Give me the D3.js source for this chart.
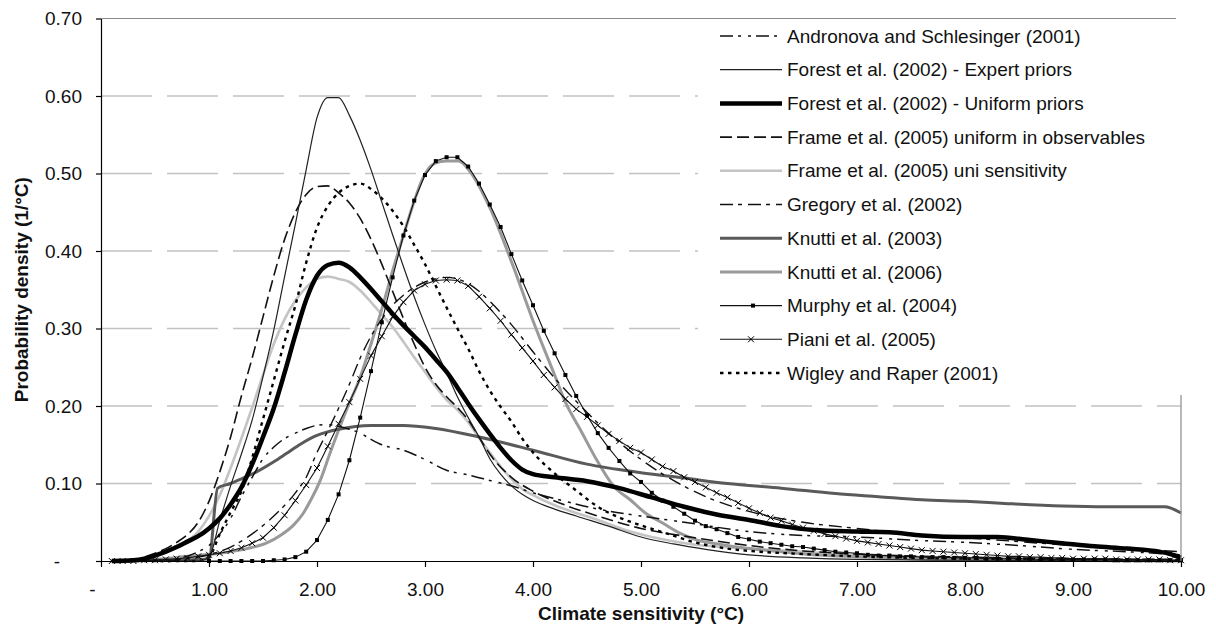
<!DOCTYPE html>
<html>
<head>
<meta charset="utf-8">
<script src="https://cdn.jsdelivr.net/npm/d3@7"></script>
<style>
  body { margin: 0; background: #fff; }
  svg { display: block; font-family: "Liberation Sans", Arial, sans-serif; }
</style>
</head>
<body>
<svg id="chart"></svg>
<script>
const width = 1216, height = 628;

// tick values
const xTicks = [0, 1, 2, 3, 4, 5, 6, 7, 8, 9, 10];
const yTicks = [0, 0.1, 0.2, 0.3, 0.4, 0.5, 0.6, 0.7];

// curves, [climate sensitivity, density]
const andronova = [[0.1,0],[0.5,0.001],[0.7,0.003],[0.9,0.012],[1.0,0.02],[1.1,0.035],[1.2,0.055],[1.3,0.083],[1.4,0.108],[1.5,0.132],[1.6,0.147],[1.7,0.158],[1.8,0.165],[1.9,0.171],[2.0,0.175],[2.1,0.176],[2.2,0.174],[2.3,0.17],[2.4,0.165],[2.5,0.157],[2.6,0.15],[2.8,0.143],[3.0,0.131],[3.2,0.117],[3.4,0.111],[3.6,0.104],[3.8,0.097],[4.0,0.088],[4.3,0.077],[4.6,0.067],[5.0,0.058],[5.4,0.05],[6.0,0.038],[6.5,0.033],[7.0,0.031],[7.5,0.027],[8.0,0.024],[8.5,0.02],[9.0,0.015],[9.5,0.012],[10,0.008]];
const forestExpert = [[0.1,0],[0.9,0],[1.0,0.005],[1.1,0.052],[1.2,0.097],[1.3,0.138],[1.4,0.182],[1.5,0.238],[1.6,0.298],[1.7,0.367],[1.8,0.435],[1.9,0.505],[2.0,0.572],[2.1,0.598],[2.2,0.598],[2.3,0.575],[2.4,0.543],[2.5,0.505],[2.6,0.463],[2.7,0.421],[2.8,0.38],[2.9,0.341],[3.0,0.305],[3.1,0.272],[3.2,0.243],[3.3,0.212],[3.4,0.185],[3.5,0.16],[3.6,0.132],[3.7,0.112],[3.8,0.097],[3.9,0.086],[4.0,0.078],[4.2,0.067],[4.4,0.058],[4.7,0.045],[5.0,0.031],[5.3,0.022],[5.6,0.015],[6.0,0.008],[6.5,0.004],[7.0,0.002],[8.0,0.001],[10,0]];
const forestUniform = [[0.1,0],[0.3,0.001],[0.4,0.003],[0.5,0.007],[0.6,0.012],[0.7,0.018],[0.8,0.025],[0.9,0.032],[1.0,0.042],[1.1,0.055],[1.2,0.073],[1.3,0.095],[1.4,0.125],[1.5,0.16],[1.6,0.197],[1.7,0.243],[1.8,0.292],[1.9,0.337],[2.0,0.368],[2.1,0.382],[2.2,0.385],[2.3,0.379],[2.4,0.366],[2.5,0.351],[2.6,0.335],[2.7,0.319],[2.8,0.304],[2.9,0.29],[3.0,0.276],[3.1,0.26],[3.2,0.244],[3.3,0.224],[3.4,0.203],[3.5,0.183],[3.6,0.164],[3.7,0.146],[3.8,0.13],[3.9,0.118],[4.0,0.112],[4.2,0.108],[4.5,0.103],[4.8,0.094],[5.1,0.082],[5.4,0.07],[5.7,0.06],[6.0,0.053],[6.3,0.045],[6.6,0.04],[7.0,0.038],[7.3,0.037],[7.6,0.033],[8.0,0.031],[8.3,0.031],[8.6,0.027],[8.9,0.023],[9.2,0.019],[9.5,0.016],[9.8,0.012],[9.9,0.009],[10,0.004]];
const frameObs = [[0.1,0],[0.3,0.001],[0.4,0.005],[0.5,0.01],[0.6,0.016],[0.7,0.024],[0.8,0.034],[0.9,0.05],[1.0,0.077],[1.1,0.115],[1.2,0.16],[1.3,0.213],[1.4,0.262],[1.5,0.315],[1.6,0.368],[1.7,0.415],[1.8,0.45],[1.9,0.473],[2.0,0.483],[2.1,0.484],[2.2,0.475],[2.3,0.462],[2.4,0.442],[2.5,0.415],[2.6,0.383],[2.7,0.348],[2.8,0.313],[2.9,0.28],[3.0,0.25],[3.1,0.228],[3.2,0.212],[3.3,0.198],[3.4,0.182],[3.5,0.16],[3.6,0.138],[3.8,0.108],[4.0,0.09],[4.3,0.072],[4.6,0.058],[5.0,0.042],[5.5,0.03],[6.0,0.02],[6.5,0.013],[7.0,0.009],[8.0,0.005],[9.0,0.003],[10,0.002]];
const frameSens = [[0.1,0],[0.3,0.001],[0.5,0.006],[0.7,0.018],[0.9,0.038],[1.0,0.058],[1.1,0.085],[1.2,0.12],[1.3,0.158],[1.4,0.198],[1.5,0.24],[1.6,0.28],[1.7,0.312],[1.8,0.336],[1.9,0.353],[2.0,0.364],[2.1,0.367],[2.2,0.364],[2.3,0.36],[2.4,0.349],[2.5,0.334],[2.6,0.318],[2.7,0.302],[2.8,0.283],[2.9,0.263],[3.0,0.244],[3.1,0.225],[3.2,0.208],[3.3,0.195],[3.4,0.179],[3.5,0.159],[3.6,0.14],[3.7,0.122],[3.8,0.106],[3.9,0.093],[4.0,0.085],[4.2,0.072],[4.4,0.062],[4.6,0.053],[4.9,0.038],[5.2,0.028],[5.5,0.021],[6.0,0.016],[6.5,0.012],[7.0,0.008],[8.0,0.004],[9.0,0.002],[10,0.001]];
const gregory = [[0.1,0],[0.5,0],[0.8,0.003],[1.0,0.008],[1.2,0.018],[1.4,0.035],[1.6,0.058],[1.8,0.088],[1.9,0.108],[2.0,0.14],[2.1,0.168],[2.2,0.197],[2.3,0.228],[2.4,0.262],[2.5,0.29],[2.6,0.312],[2.7,0.33],[2.8,0.343],[2.9,0.353],[3.0,0.36],[3.1,0.364],[3.2,0.366],[3.3,0.364],[3.4,0.358],[3.5,0.348],[3.6,0.335],[3.8,0.305],[4.0,0.27],[4.2,0.236],[4.4,0.206],[4.6,0.178],[4.8,0.153],[5.0,0.131],[5.3,0.104],[5.6,0.083],[6.0,0.064],[6.5,0.05],[7.0,0.042],[7.5,0.035],[8.0,0.03],[8.5,0.025],[9.0,0.02],[9.5,0.016],[10,0.012]];
const knutti03 = [[0.1,0],[0.5,0.001],[0.9,0.002],[1.0,0.003],[1.08,0.094],[1.2,0.1],[1.3,0.106],[1.44,0.115],[1.6,0.128],[1.72,0.139],[1.85,0.151],[2.0,0.162],[2.2,0.17],[2.5,0.175],[2.8,0.175],[3.1,0.171],[3.5,0.16],[4.0,0.143],[4.5,0.125],[5.0,0.114],[5.4,0.107],[5.8,0.1],[6.3,0.094],[6.8,0.087],[7.2,0.083],[7.6,0.079],[8.0,0.077],[8.4,0.074],[8.9,0.071],[9.3,0.07],[9.85,0.07],[10,0.062]];
const knutti06 = [[0.1,0],[0.3,0],[0.5,0.002],[0.8,0.006],[1.1,0.01],[1.35,0.016],[1.53,0.023],[1.66,0.033],[1.78,0.046],[1.87,0.061],[1.94,0.078],[2.03,0.104],[2.12,0.139],[2.2,0.169],[2.27,0.194],[2.4,0.237],[2.5,0.28],[2.6,0.325],[2.71,0.379],[2.8,0.42],[2.89,0.46],[2.98,0.494],[3.09,0.513],[3.2,0.516],[3.31,0.516],[3.42,0.502],[3.6,0.456],[3.82,0.379],[4.0,0.31],[4.2,0.24],[4.3,0.205],[4.44,0.169],[4.6,0.128],[4.75,0.096],[4.9,0.079],[5.05,0.061],[5.2,0.049],[5.36,0.036],[5.52,0.027],[5.67,0.023],[6.0,0.016],[6.3,0.012],[6.6,0.008],[6.9,0.006],[7.5,0.003],[8.5,0.001],[10,0]];
const wigley = [[0.1,0],[0.9,0],[1.0,0.005],[1.1,0.035],[1.2,0.063],[1.3,0.09],[1.4,0.133],[1.5,0.183],[1.6,0.233],[1.7,0.283],[1.8,0.33],[1.9,0.385],[2.0,0.43],[2.1,0.458],[2.2,0.475],[2.3,0.484],[2.4,0.487],[2.5,0.48],[2.6,0.468],[2.7,0.452],[2.8,0.432],[2.9,0.408],[3.0,0.383],[3.1,0.355],[3.2,0.327],[3.3,0.3],[3.4,0.274],[3.5,0.245],[3.6,0.22],[3.7,0.199],[3.8,0.18],[3.9,0.158],[4.0,0.14],[4.2,0.113],[4.4,0.091],[4.6,0.07],[4.8,0.056],[5.0,0.046],[5.25,0.035],[5.5,0.024],[5.8,0.016],[6.1,0.012],[6.5,0.009],[7.0,0.006],[8.0,0.003],[9.0,0.002],[10,0.001]];

// marker series, one value every 0.1 degC
const murphyX = d3.range(10, 101).map(i => i / 10);
const murphyY = [0,0,0,0,0,0,0.001,0.002,0.005,0.012,
  0.027,0.053,0.086,0.130,0.185,0.245,0.308,0.366,0.420,0.465,
  0.498,0.516,0.521,0.521,0.509,0.487,0.460,0.431,0.396,0.362,
  0.330,0.297,0.268,0.240,0.213,0.188,0.165,0.146,0.129,0.113,
  0.102,0.088,0.078,0.070,0.061,0.052,0.045,0.041,0.036,0.031,
  0.028,0.025,0.023,0.021,0.019,0.018,0.016,0.014,0.012,0.011,
  0.010,0.008,0.007,0.007,0.006,0.006,0.005,0.005,0.005,0.004,
  0.004,0.004,0.003,0.003,0.003,0.003,0.003,0.002,0.002,0.002,
  0.002,0.002,0.002,0.002,0.001,0.001,0.001,0.001,0.001,0.001,0.001];
const pianiX = d3.range(1, 101).map(i => i / 10);
const pianiY = [0,0,0,0.001,0.001,0.002,0.003,0.004,0.006,0.008,
  0.010,0.013,0.017,0.023,0.030,0.043,0.059,0.078,0.098,0.120,
  0.148,0.177,0.205,0.235,0.265,0.290,0.315,0.334,0.349,0.357,
  0.362,0.363,0.362,0.355,0.341,0.326,0.310,0.292,0.275,0.258,
  0.240,0.224,0.209,0.196,0.186,0.175,0.164,0.155,0.146,0.140,
  0.131,0.122,0.116,0.108,0.102,0.095,0.088,0.082,0.075,0.068,
  0.062,0.056,0.052,0.047,0.043,0.039,0.035,0.032,0.029,0.026,
  0.024,0.022,0.020,0.018,0.016,0.014,0.013,0.012,0.011,0.010,
  0.009,0.008,0.007,0.006,0.006,0.005,0.005,0.004,0.004,0.003,
  0.003,0.003,0.003,0.002,0.002,0.002,0.002,0.002,0.001,0.001];

const murphy = murphyX.map((v, i) => [v, murphyY[i]]);
const piani = pianiX.map((v, i) => [v, pianiY[i]]);

// legend order and line styles
let series = [
  {name: "Andronova and Schlesinger (2001)", data: andronova, color: "#111", w: 1.5, dash: "13,5,3,7,3,5"},
  {name: "Forest et al. (2002) - Expert priors", data: forestExpert, color: "#222", w: 1.2, dash: null},
  {name: "Forest et al. (2002) - Uniform priors", data: forestUniform, color: "#000", w: 4.5, dash: null},
  {name: "Frame et al. (2005) uniform in observables", data: frameObs, color: "#111", w: 1.6, dash: "12,5"},
  {name: "Frame et al. (2005) uni sensitivity", data: frameSens, color: "#c4c4c4", w: 2.6, dash: null},
  {name: "Gregory et al. (2002)", data: gregory, color: "#111", w: 1.4, dash: "13,5,4,6"},
  {name: "Knutti et al. (2003)", data: knutti03, color: "#5a5a5a", w: 3, dash: null},
  {name: "Knutti et al. (2006)", data: knutti06, color: "#9a9a9a", w: 3, dash: null},
  {name: "Murphy et al. (2004)", data: murphy, color: "#111", w: 1.1, dash: null, marker: "square"},
  {name: "Piani et al. (2005)", data: piani, color: "#111", w: 1.1, dash: null, marker: "cross"},
  {name: "Wigley and Raper (2001)", data: wigley, color: "#000", w: 2.4, dash: "3.5,4.5"}
];
// drawing order: grey lines underneath
let drawOrder = [4, 7, 6, 0, 5, 3, 10, 1, 8, 9, 2];

let svg = d3.select("#chart")
    .attr("width", width)
    .attr("height", height);

let x = d3.scaleLinear().domain([0, 10]).range([101, 1181]);
let y = d3.scaleLinear().domain([0, 0.7]).range([561, 18.5]);

// grid lines
svg.append("g")
    .selectAll("line")
    .data(yTicks.filter(d => d > 0 && d < 0.7))
    .enter()
    .append("line")
    .attr("x1", x(0)).attr("x2", x(10))
    .attr("y1", d => y(d)).attr("y2", d => y(d))
    .style("stroke", "#c2c2c2")
    .style("stroke-width", 1.5)
    .style("stroke-dasharray", "51,15");

let line = d3.line()
    .x(d => x(d[0]))
    .y(d => y(d[1]))
    .curve(d3.curveMonotoneX);

let lineStraight = d3.line()
    .x(d => x(d[0]))
    .y(d => y(d[1]));

let plot = svg.append("g");

drawOrder.forEach(i => {
    let s = series[i];
    plot.append("path")
        .datum(s.data)
        .attr("d", s.marker ? lineStraight : line)
        .style("fill", "none")
        .style("stroke", s.color)
        .style("stroke-width", s.w)
        .style("stroke-linejoin", "round")
        .style("stroke-dasharray", s.dash);

    if (s.marker === "square") {
        plot.append("g").selectAll("rect")
            .data(s.data)
            .enter()
            .append("rect")
            .attr("x", d => x(d[0]) - 2)
            .attr("y", d => y(d[1]) - 2)
            .attr("width", 4)
            .attr("height", 4)
            .style("fill", "#000");
    }
    if (s.marker === "cross") {
        plot.append("g").selectAll("path")
            .data(s.data)
            .enter()
            .append("path")
            .attr("d", d => {
                let cx = x(d[0]), cy = y(d[1]);
                return `M${cx-3},${cy-3}L${cx+3},${cy+3}M${cx-3},${cy+3}L${cx+3},${cy-3}`;
            })
            .style("stroke", "#000")
            .style("stroke-width", 1);
    }
});

// legend box sits over the top right of the plot
let legend = svg.append("g");
legend.append("rect")
    .attr("x", 698).attr("y", 19.5)
    .attr("width", 490).attr("height", 375)
    .style("fill", "#fff");

// plot frame (top and right), axes
svg.append("line")
    .attr("x1", x(0)).attr("x2", 1176)
    .attr("y1", y(0.7)).attr("y2", y(0.7))
    .style("stroke", "#8a8a8a").style("stroke-width", 1.2);
svg.append("line")
    .attr("x1", x(10)).attr("x2", x(10))
    .attr("y1", 395).attr("y2", y(0))
    .style("stroke", "#8a8a8a").style("stroke-width", 1.2);

let y_axis = svg.append("g")
    .attr("transform", `translate(${x(0)},0)`)
    .call(d3.axisLeft(y).tickValues(yTicks).tickSize(5).tickSizeOuter(0).tickPadding(14)
        .tickFormat(d => d === 0 ? "-" : d.toFixed(2)));

let x_axis = svg.append("g")
    .attr("transform", `translate(0,${y(0)})`)
    .call(d3.axisBottom(x).tickValues(xTicks).tickSize(6).tickSizeOuter(0).tickPadding(16)
        .tickFormat(d => d === 0 ? "-" : d.toFixed(2)));

[x_axis, y_axis].forEach(a => {
    a.select(".domain").style("stroke", "#000").style("stroke-width", 1.2);
    a.selectAll("line").style("stroke", "#000").style("stroke-width", 1.2);
    a.selectAll("text")
        .style("font-size", "19px")
        .style("fill", "#111")
        .style("font-family", "'Liberation Sans', Arial, sans-serif");
});

// accounting style "-" for zero
y_axis.selectAll(".tick text").filter(d => d === 0).attr("x", -41);
x_axis.selectAll(".tick text").filter(d => d === 0).attr("x", -9);

// axis titles
svg.append("text")
    .attr("transform", `translate(${(x(0) + x(10)) / 2},620)`)
    .style("text-anchor", "middle")
    .style("font-size", "19px")
    .style("font-weight", "bold")
    .style("fill", "#111")
    .text("Climate sensitivity (°C)");

svg.append("text")
    .attr("transform", `translate(28,${(y(0) + y(0.7)) / 2}) rotate(-90)`)
    .style("text-anchor", "middle")
    .style("font-size", "19px")
    .style("font-weight", "bold")
    .style("fill", "#111")
    .text("Probability density (1/°C)");

// legend entries
let legendRow = d3.scaleLinear().domain([0, 10]).range([36, 373]);

series.forEach((s, i) => {
    let ly = legendRow(i);
    legend.append("line")
        .attr("x1", 720).attr("x2", 782)
        .attr("y1", ly).attr("y2", ly)
        .style("stroke", s.color)
        .style("stroke-width", s.w)
        .style("stroke-dasharray", s.dash);
    if (s.marker === "square") {
        legend.append("rect")
            .attr("x", 751).attr("y", ly - 2)
            .attr("width", 4).attr("height", 4)
            .style("fill", "#000");
    }
    if (s.marker === "cross") {
        legend.append("path")
            .attr("d", `M748,${ly-3}L754,${ly+3}M748,${ly+3}L754,${ly-3}`)
            .style("stroke", "#000");
    }
    legend.append("text")
        .attr("x", 787)
        .attr("y", ly)
        .attr("dy", "0.35em")
        .style("font-size", "19px")
        .style("fill", "#111")
        .text(s.name);
});
</script>
</body>
</html>
